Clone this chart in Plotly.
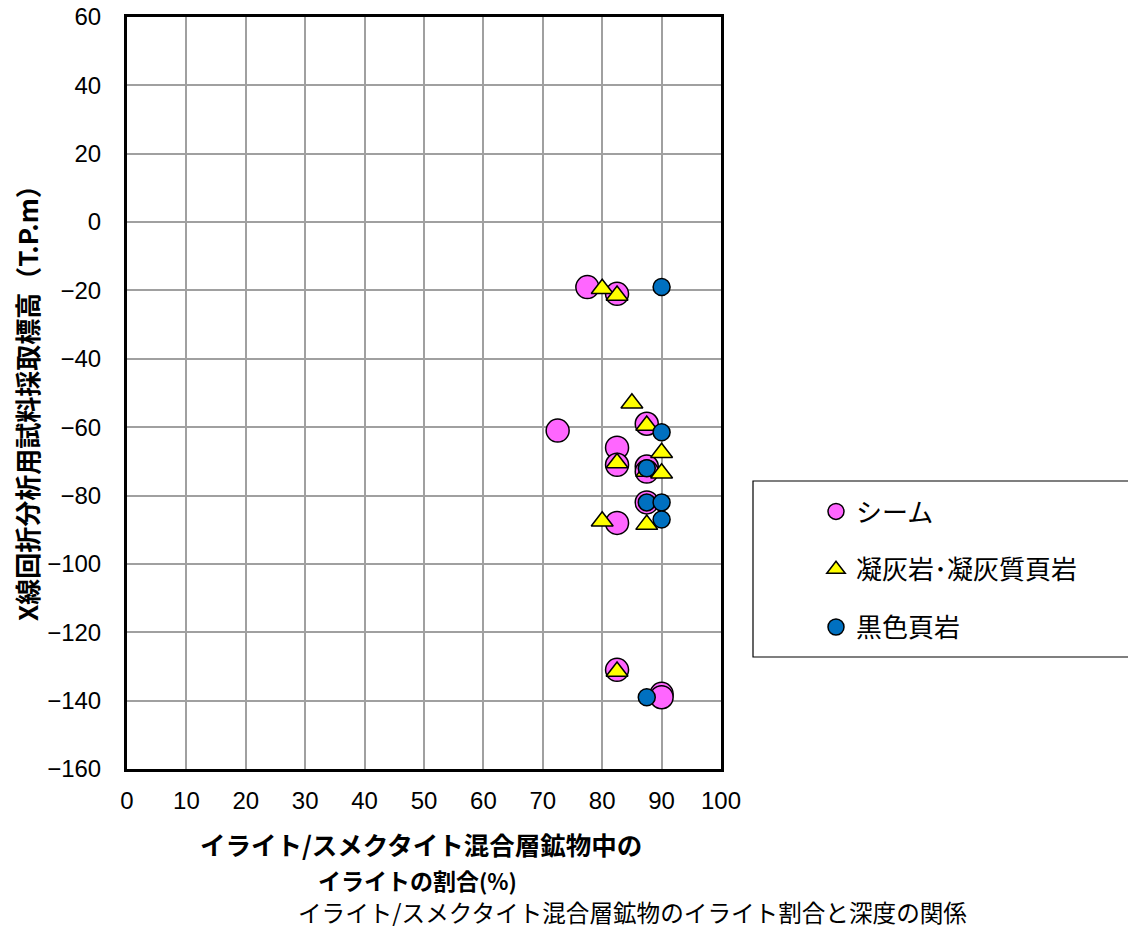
import plotly.graph_objects as go

# Data
seam_x = [77.5, 82.5, 72.5, 87.5, 82.5, 82.5, 87.5, 87.5, 87.5, 82.5, 82.5, 90.0, 90.0]
seam_y = [-19, -21, -61, -59, -66, -71, -71.5, -73, -82, -88, -131, -138, -139]

tuff_x = [80.0, 82.5, 85.0, 87.5, 90.0, 82.5, 87.5, 90.0, 80.0, 87.5, 82.5]
tuff_y = [-19.5, -21.5, -53, -59.5, -67.5, -70.5, -73, -73.5, -87.5, -88.5, -131.5]

shale_x = [90.0, 90.0, 87.5, 87.5, 90.0, 90.0, 87.5]
shale_y = [-19, -61.5, -72, -82, -82, -87, -139]

series_names = ["シーム", "凝灰岩･凝灰質頁岩", "黒色頁岩"]
x_ticks = list(range(0, 101, 10))
y_ticks = list(range(-160, 61, 20))

x_title_1 = "イライト/スメクタイト混合層鉱物中の"
x_title_2 = "イライトの割合<span style='font-size:22px'>(%)</span>"
y_title = "X線回折分析用試料採取標高（T.P.m）"
caption = "イライト/スメクタイト混合層鉱物のイライト割合と深度の関係"

JP = "Noto Sans CJK JP"
AR = "Liberation Sans, Arial"

fig = go.Figure()
fig.add_trace(go.Scatter(
    x=seam_x, y=seam_y, mode="markers", name=series_names[0], legendgroup="a",
    marker=dict(symbol="circle", size=23, color="#FF66FF", line=dict(color="black", width=1.5)),
))
fig.add_trace(go.Scatter(
    x=tuff_x, y=tuff_y, mode="markers", name=series_names[1], legendgroup="b",
    marker=dict(symbol="triangle-up", size=19, color="#FFFF00", line=dict(color="black", width=1.5)),
))
fig.add_trace(go.Scatter(
    x=shale_x, y=shale_y, mode="markers", name=series_names[2], legendgroup="c",
    marker=dict(symbol="circle", size=17, color="#0070C0", line=dict(color="black", width=1.5)),
))

# page offset compensation (observed body margin)
DX, DY = 7, 8
L, T = 126 - DX, 17 - DY
PW, PH = 594, 752
R = 1136 - L - PW
B = 928 - T - PH

def px_x(p):
    # p is target pixel x in the reference
    return (p - 126) / PW

def px_y(p):
    return (769 - p) / PH

fig.update_layout(
    width=1136, height=928, autosize=False,
    margin=dict(l=L, r=R, t=T, b=B, pad=0, autoexpand=False),
    paper_bgcolor="white", plot_bgcolor="white",
    showlegend=True,
    legend=dict(
        x=px_x(815), y=px_y(488), xanchor="left", yanchor="top",
        bgcolor="rgba(0,0,0,0)", borderwidth=0,
        font=dict(family=JP, size=26, color="black"),
        tracegroupgap=21, itemsizing="trace",
    ),
    xaxis=dict(
        range=[0, 100], tickvals=x_ticks, showgrid=True, gridcolor="#A0A0A0", gridwidth=1.5,
        showline=True, linecolor="black", linewidth=3, mirror=True, zeroline=False,
        ticks="", ticklabelstandoff=8, automargin=False, ticklabeloverflow="allow",
        tickfont=dict(family=AR, size=24, color="black"),
    ),
    yaxis=dict(
        range=[-160, 60], tickvals=y_ticks, showgrid=True, gridcolor="#A0A0A0", gridwidth=1.5,
        showline=True, linecolor="black", linewidth=3, mirror=True, zeroline=False,
        ticks="", ticklabelstandoff=18, automargin=False, ticklabeloverflow="allow",
        tickfont=dict(family=AR, size=24, color="black"),
    ),
    shapes=[dict(
        type="rect", xref="paper", yref="paper",
        x0=px_x(752), x1=px_x(1160), y0=px_y(657), y1=px_y(481),
        line=dict(color="black", width=1.2), fillcolor="rgba(0,0,0,0)",
    )],
    annotations=[
        dict(text="<b>" + x_title_1 + "</b>", xref="paper", yref="paper",
             x=px_x(420), y=px_y(844), xanchor="center", yanchor="middle", showarrow=False,
             font=dict(family=JP, size=25.5, color="black")),
        dict(text="<b>" + x_title_2 + "</b>", xref="paper", yref="paper",
             x=px_x(416), y=px_y(880), xanchor="center", yanchor="middle", showarrow=False,
             font=dict(family=JP, size=23, color="black")),
        dict(text=caption, xref="paper", yref="paper",
             x=px_x(631), y=px_y(912), xanchor="center", yanchor="middle", showarrow=False,
             font=dict(family=JP, size=23.6, color="black")),
        dict(text="<b>" + y_title + "</b>", xref="paper", yref="paper",
             x=px_x(26), y=px_y(397), xanchor="center", yanchor="middle", showarrow=False,
             textangle=-90, font=dict(family=JP, size=26, color="black")),
    ],
)

fig.write_html("out.html")
